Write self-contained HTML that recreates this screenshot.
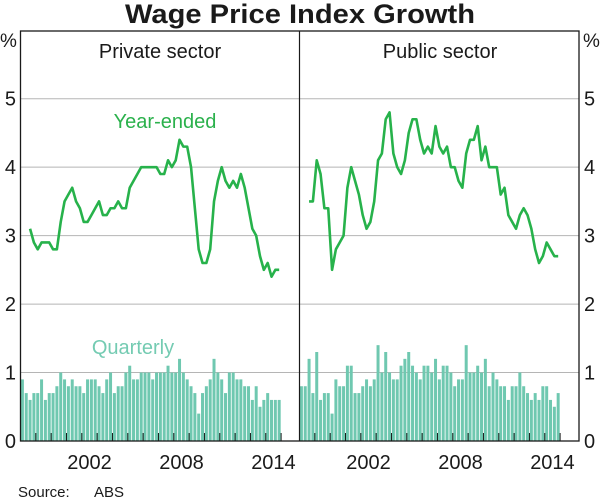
<!DOCTYPE html>
<html><head><meta charset="utf-8"><style>
html,body{margin:0;padding:0;background:#fff;}
svg{display:block;font-family:"Liberation Sans",Arial,sans-serif;}
</style></head><body>
<svg id="chart" width="600" height="498" viewBox="0 0 600 498">
<text x="300" y="23" text-anchor="middle" font-size="27" font-weight="bold" fill="#1a1a1a" textLength="350" lengthAdjust="spacingAndGlyphs">Wage Price Index Growth</text>
<g id="grid"></g>
<g id="bars"></g>
<g id="lines"></g>
<g id="frame"></g>
<text x="160" y="58" text-anchor="middle" font-size="20" fill="#1a1a1a">Private sector</text>
<text x="440" y="58" text-anchor="middle" font-size="20" fill="#1a1a1a">Public sector</text>
<text x="165" y="128" text-anchor="middle" font-size="20" fill="#2bb14c">Year-ended</text>
<text x="133" y="354" text-anchor="middle" font-size="20" fill="#74cbb2">Quarterly</text>
<text x="0" y="47" font-size="19" fill="#1a1a1a">%</text>
<text x="583" y="47" font-size="19" fill="#1a1a1a">%</text>
<g id="ticks"></g>
<text x="18" y="497" font-size="15" fill="#1a1a1a">Source:</text>
<text x="94" y="497" font-size="15" fill="#1a1a1a">ABS</text>
</svg>
<script>
const yTicks = [0,1,2,3,4,5];
const xTickLabels = [2002,2008,2014];
const privateQuarterly = [0.9,0.7,0.6,0.7,0.7,0.9,0.6,0.7,0.7,0.8,1.0,0.9,0.8,0.9,0.8,0.8,0.7,0.9,0.9,0.9,0.8,0.7,0.9,1.0,0.7,0.8,0.8,1.0,1.1,0.9,0.9,1.0,1.0,1.0,0.9,1.0,1.0,1.0,1.1,1.0,1.0,1.2,1.0,0.9,0.8,0.7,0.4,0.7,0.8,0.9,1.2,1.0,0.9,0.7,1.0,1.0,0.9,0.9,0.8,0.8,0.6,0.8,0.5,0.6,0.7,0.6,0.6,0.6];
const publicQuarterly = [0.8,0.8,1.2,0.7,1.3,0.6,0.7,0.7,0.4,0.9,0.8,0.8,1.1,1.1,0.7,0.7,0.8,0.9,0.8,0.9,1.4,1.0,1.3,1.0,0.9,0.9,1.1,1.2,1.3,1.1,1.0,0.9,1.1,1.1,1.0,1.2,0.9,1.1,1.1,1.0,0.8,0.9,0.9,1.4,1.0,1.0,1.1,1.0,1.2,0.8,1.0,0.9,0.8,0.8,0.6,0.8,0.8,1.0,0.8,0.7,0.6,0.7,0.6,0.8,0.8,0.6,0.5,0.7];
const privateYearEnded = [3.1,2.9,2.8,2.9,2.9,2.9,2.8,2.8,3.2,3.5,3.6,3.7,3.5,3.4,3.2,3.2,3.3,3.4,3.5,3.3,3.3,3.4,3.4,3.5,3.4,3.4,3.7,3.8,3.9,4.0,4.0,4.0,4.0,4.0,3.9,3.9,4.1,4.0,4.1,4.4,4.3,4.3,4.0,3.4,2.8,2.6,2.6,2.8,3.5,3.8,4.0,3.8,3.7,3.8,3.7,3.9,3.7,3.4,3.1,3.0,2.7,2.5,2.6,2.4,2.5,2.5];
const publicYearEnded = [3.5,3.5,4.1,3.9,3.4,3.4,2.5,2.8,2.9,3.0,3.7,4.0,3.8,3.6,3.3,3.1,3.2,3.5,4.1,4.2,4.7,4.8,4.2,4.0,3.9,4.1,4.5,4.7,4.7,4.4,4.2,4.3,4.2,4.6,4.3,4.2,4.3,4.0,4.0,3.8,3.7,4.2,4.4,4.4,4.6,4.1,4.3,4.0,4.0,4.0,3.6,3.7,3.3,3.2,3.1,3.3,3.4,3.3,3.1,2.8,2.6,2.7,2.9,2.8,2.7,2.7];
const lineStartIndex = 2;
const startYear = 1998;

const NS="http://www.w3.org/2000/svg";
const panels=[{left:20.5,right:299.5,key:'private'},{left:299.5,right:579,key:'public'}];
const TOP=31,BOTTOM=441,PX_PER_YEAR=15.33;
function y(v){return 441-68.46*v;}
function xT(p,t){return p.left+(t-startYear)*PX_PER_YEAR;}
function mk(tag,attrs,parent){const e=document.createElementNS(NS,tag);for(const k in attrs)e.setAttribute(k,attrs[k]);document.getElementById(parent).appendChild(e);return e;}

yTicks.forEach(v=>{
  if(v>0){const g=mk('line',{x1:20.5,x2:579,y1:y(v),y2:y(v),stroke:'#b5b5b5','stroke-width':1},'grid');
  
  }
  const l=mk('text',{x:16,y:y(v)+7,'text-anchor':'end','font-size':20,fill:'#1a1a1a'},'ticks');l.textContent=v;
  
  
  const r=mk('text',{x:584,y:y(v)+7,'font-size':20,fill:'#1a1a1a'},'ticks');r.textContent=v;
  
  
});

panels.forEach((p,pi)=>{
  const q=pi===0?privateQuarterly:publicQuarterly;
  const ye=pi===0?privateYearEnded:publicYearEnded;
  q.forEach((v,k)=>{
    const x0=xT(p,startYear+k/4)+0.4;
    const b=mk('rect',{x:x0,y:y(v),width:3,height:y(0)-y(v),fill:'#6fc8b0'},'bars');
    
    
  });
  const pts=ye.map((v,i)=>{const k=i+lineStartIndex;return (xT(p,startYear+k/4)+1.9).toFixed(2)+','+y(v).toFixed(2);}).join(' ');
  const pl=mk('polyline',{points:pts,fill:'none',stroke:'#27b24b','stroke-width':2.6,'stroke-linejoin':'round'},'lines');
  
  
  for(let yr=1999;yr<=2015;yr++){
    const tx=xT(p,yr);
    const t=mk('line',{x1:tx,x2:tx,y1:BOTTOM,y2:BOTTOM-8,stroke:'#1a1a1a','stroke-width':1},'frame');
    
    
  }
  xTickLabels.forEach(yr=>{
    const l=mk('text',{x:xT(p,yr+0.5),y:469,'text-anchor':'middle','font-size':20,fill:'#1a1a1a'},'ticks');l.textContent=yr;
    
    
  });
});
const fr=mk('rect',{x:20.5,y:TOP,width:558.5,height:BOTTOM-TOP,fill:'none',stroke:'#1a1a1a','stroke-width':1.3},'frame');


const dv=mk('line',{x1:299.5,x2:299.5,y1:TOP,y2:BOTTOM,stroke:'#1a1a1a','stroke-width':1.2},'frame');


</script>
</body></html>
